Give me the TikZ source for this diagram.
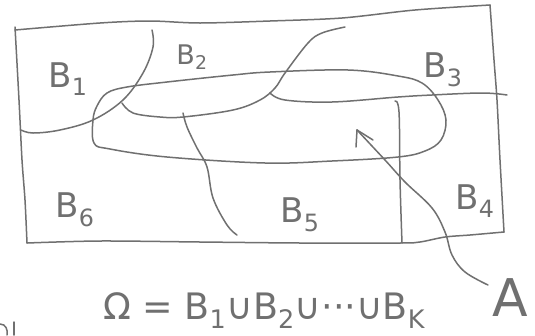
\documentclass[tikz,border=0pt]{standalone}
\usepackage{fontspec}
\setmainfont{DejaVu Sans}
\usepackage{graphicx}
\definecolor{pen}{RGB}{112,112,112}
\tikzset{
  ink/.style={draw=pen, line width=1.5pt, line cap=round, line join=round},
  lbl/.style={text=pen, inner sep=0pt, font=\fontsize{34}{34}\selectfont},
  smalllbl/.style={lbl, font=\fontsize{27}{27}\selectfont}
}
\begin{document}
\begin{tikzpicture}[x=1pt,y=-1pt]
\useasboundingbox (0,0) rectangle (535,335);
\fill[white] (0,0) rectangle (535,335);
% outer frame (Omega)
\draw[ink] plot[smooth, tension=0.5] coordinates {(15,30) (100,23) (150,21) (200,23) (270,21) (342,18) (415,10) (490,5)};
\draw[ink] plot[smooth, tension=0.5] coordinates {(490,5) (494,60) (497,100) (500,160) (504,232)};
\draw[ink] plot[smooth, tension=0.5] coordinates {(504,232) (470,235) (445,237) (420,242) (400,243) (300,243) (200,242) (100,241) (27,243)};
\draw[ink] plot[smooth, tension=0.5] coordinates {(27,243) (25,200) (22,160) (19,100) (15,27)};
% B1 boundary
\draw[ink] plot[smooth, tension=0.6] coordinates {(152,30) (153,47) (143,73) (123,100) (93,120) (60,130) (33,133) (21,130)};
% B2 lower boundary
\draw[ink] plot[smooth, tension=0.6] coordinates {(122,103) (133,113) (160,117) (183,117) (233,110) (260,100) (275,88) (285,73) (308,43) (322,33) (345,27)};
% B3 lower boundary
\draw[ink] plot[smooth, tension=0.6] coordinates {(270,93) (285,100) (332,102) (398,97) (432,95) (482,93) (507,95)};
% B4 boundary
\draw[ink] plot[smooth, tension=0.6] coordinates {(395,101) (399,112) (400,180) (402,243)};
% B5/B6 boundary
\draw[ink] plot[smooth, tension=0.6] coordinates {(183,113) (187,127) (197,148) (207,167) (213,198) (227,225) (237,235)};
% event A
\draw[ink] plot[smooth cycle, tension=0.6] coordinates {(270,72) (348,70) (398,76) (422,83) (438,100) (446,120) (441,140) (425,151) (398,157) (332,161) (265,163) (167,157) (110,149) (94,143) (93,120) (97,106) (107,93) (127,87) (167,82) (233,75)};
% labels
\node[lbl] (b1) at (68,79) {B\textsubscript{1}};
\node[smalllbl] (b2) at (192,57) {B\textsubscript{2}};
\node[lbl] (b3) at (443,70) {B\textsubscript{3}};
\node[lbl] (b4) at (475,201) {B\textsubscript{4}};
\node[lbl] (b5) at (300,215) {B\textsubscript{5}};
\node[lbl] (b6) at (75,210) {B\textsubscript{6}};
\node[lbl, anchor=base west] (omega) at (103,319) {\resizebox{322pt}{!}{Ω = B\textsubscript{1}∪B\textsubscript{2}∪···∪B\textsubscript{K}}};
\node[lbl, font=\fontsize{52}{52}\selectfont] (alabel) at (510,298) {A};
% arrow to A
\coordinate (tail) at (488,285);
\coordinate (tip) at (357,130);
\draw[ink] plot[smooth, tension=0.6] coordinates {(tail) (465,272) (452,255) (445,232) (432,208) (405,182) (385,160) (tip)};
\draw[ink] (tip) -- (356,147);
\draw[ink] (tip) -- (373,140);
% cut-off mark at lower left
\draw[ink] (0,324) .. controls (6,324) and (8,330) .. (7,335);
\draw[ink] (14,322) -- (14,335);
\end{tikzpicture}
\end{document}
